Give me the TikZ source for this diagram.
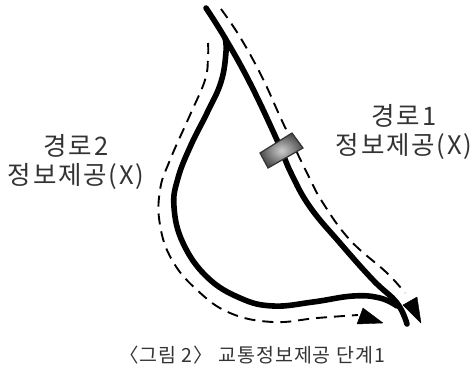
\documentclass[tikz,border=0pt]{standalone}
\usepackage{fontspec}
\newfontfamily\krfont{Noto Sans CJK KR}[LetterSpace=7]
\newfontfamily\krcapfont{Noto Sans CJK KR}[LetterSpace=5]
\tikzset{
 road/.style={line width=5.6pt,line cap=round,line join=round},
 route/.style={line width=1.9pt,dash pattern=on 11pt off 7pt},
 tipfill/.style={fill=black,draw=black,line width=.4pt,line join=round},
 lab/.style={font=\krfont\fontsize{25.5}{29.5}\selectfont,align=center,inner sep=0pt,text=black!80},
 captext/.style={font=\krcapfont\fontsize{19.5}{22}\selectfont,inner sep=0pt,text=black!80}
}
\begin{document}
\begin{tikzpicture}[x=1pt,y=-1pt]
\useasboundingbox (0,0) rectangle (476,370);
% dashed routes
\draw[route] plot[smooth,tension=.7] coordinates {(221,9) (240,37) (262,77) (283,123) (308,175) (323,203) (350,240) (387,273) (405,293)};
\draw[route] plot[smooth,tension=.7] coordinates {(208,43) (208,57) (205,80) (190,115) (170,160) (160,190) (160,225) (172,260) (197,290) (230,313) (273,322) (317,318) (358,315)};
% roads
\draw[road] plot[smooth,tension=.7] coordinates {(206,8) (225,38) (250,83) (277,140) (291,173) (310,207) (340,243) (373,280) (397,303) (407,324)};
\draw[road] plot[smooth,tension=.7] coordinates {(225,38) (226,52) (221,82) (207,113) (191,145) (178,178) (174,207) (183,243) (207,277) (240,298) (273,306) (313,302) (353,296) (380,298) (397,306)};
% arrowheads
\draw[tipfill] (403,305) -- (417,297) -- (421,323) -- cycle;
\draw[tipfill] (357,324) -- (363,308) -- (383,323) -- cycle;
% vehicle
\draw[draw=black!80,line width=1.2pt,inner color=black!20,outer color=black!70]
 (260,153) -- (292,133) -- (303,148) -- (268,168) -- cycle;
% labels
\node[lab] (r1) at (404,132) {경로1\\정보제공(X)};
\node[lab] (r2) at (76,162) {경로2\\정보제공(X)};
\node[captext] (c) at (252,355) {〈그림 2〉 교통정보제공 단계1};
\end{tikzpicture}
\end{document}
